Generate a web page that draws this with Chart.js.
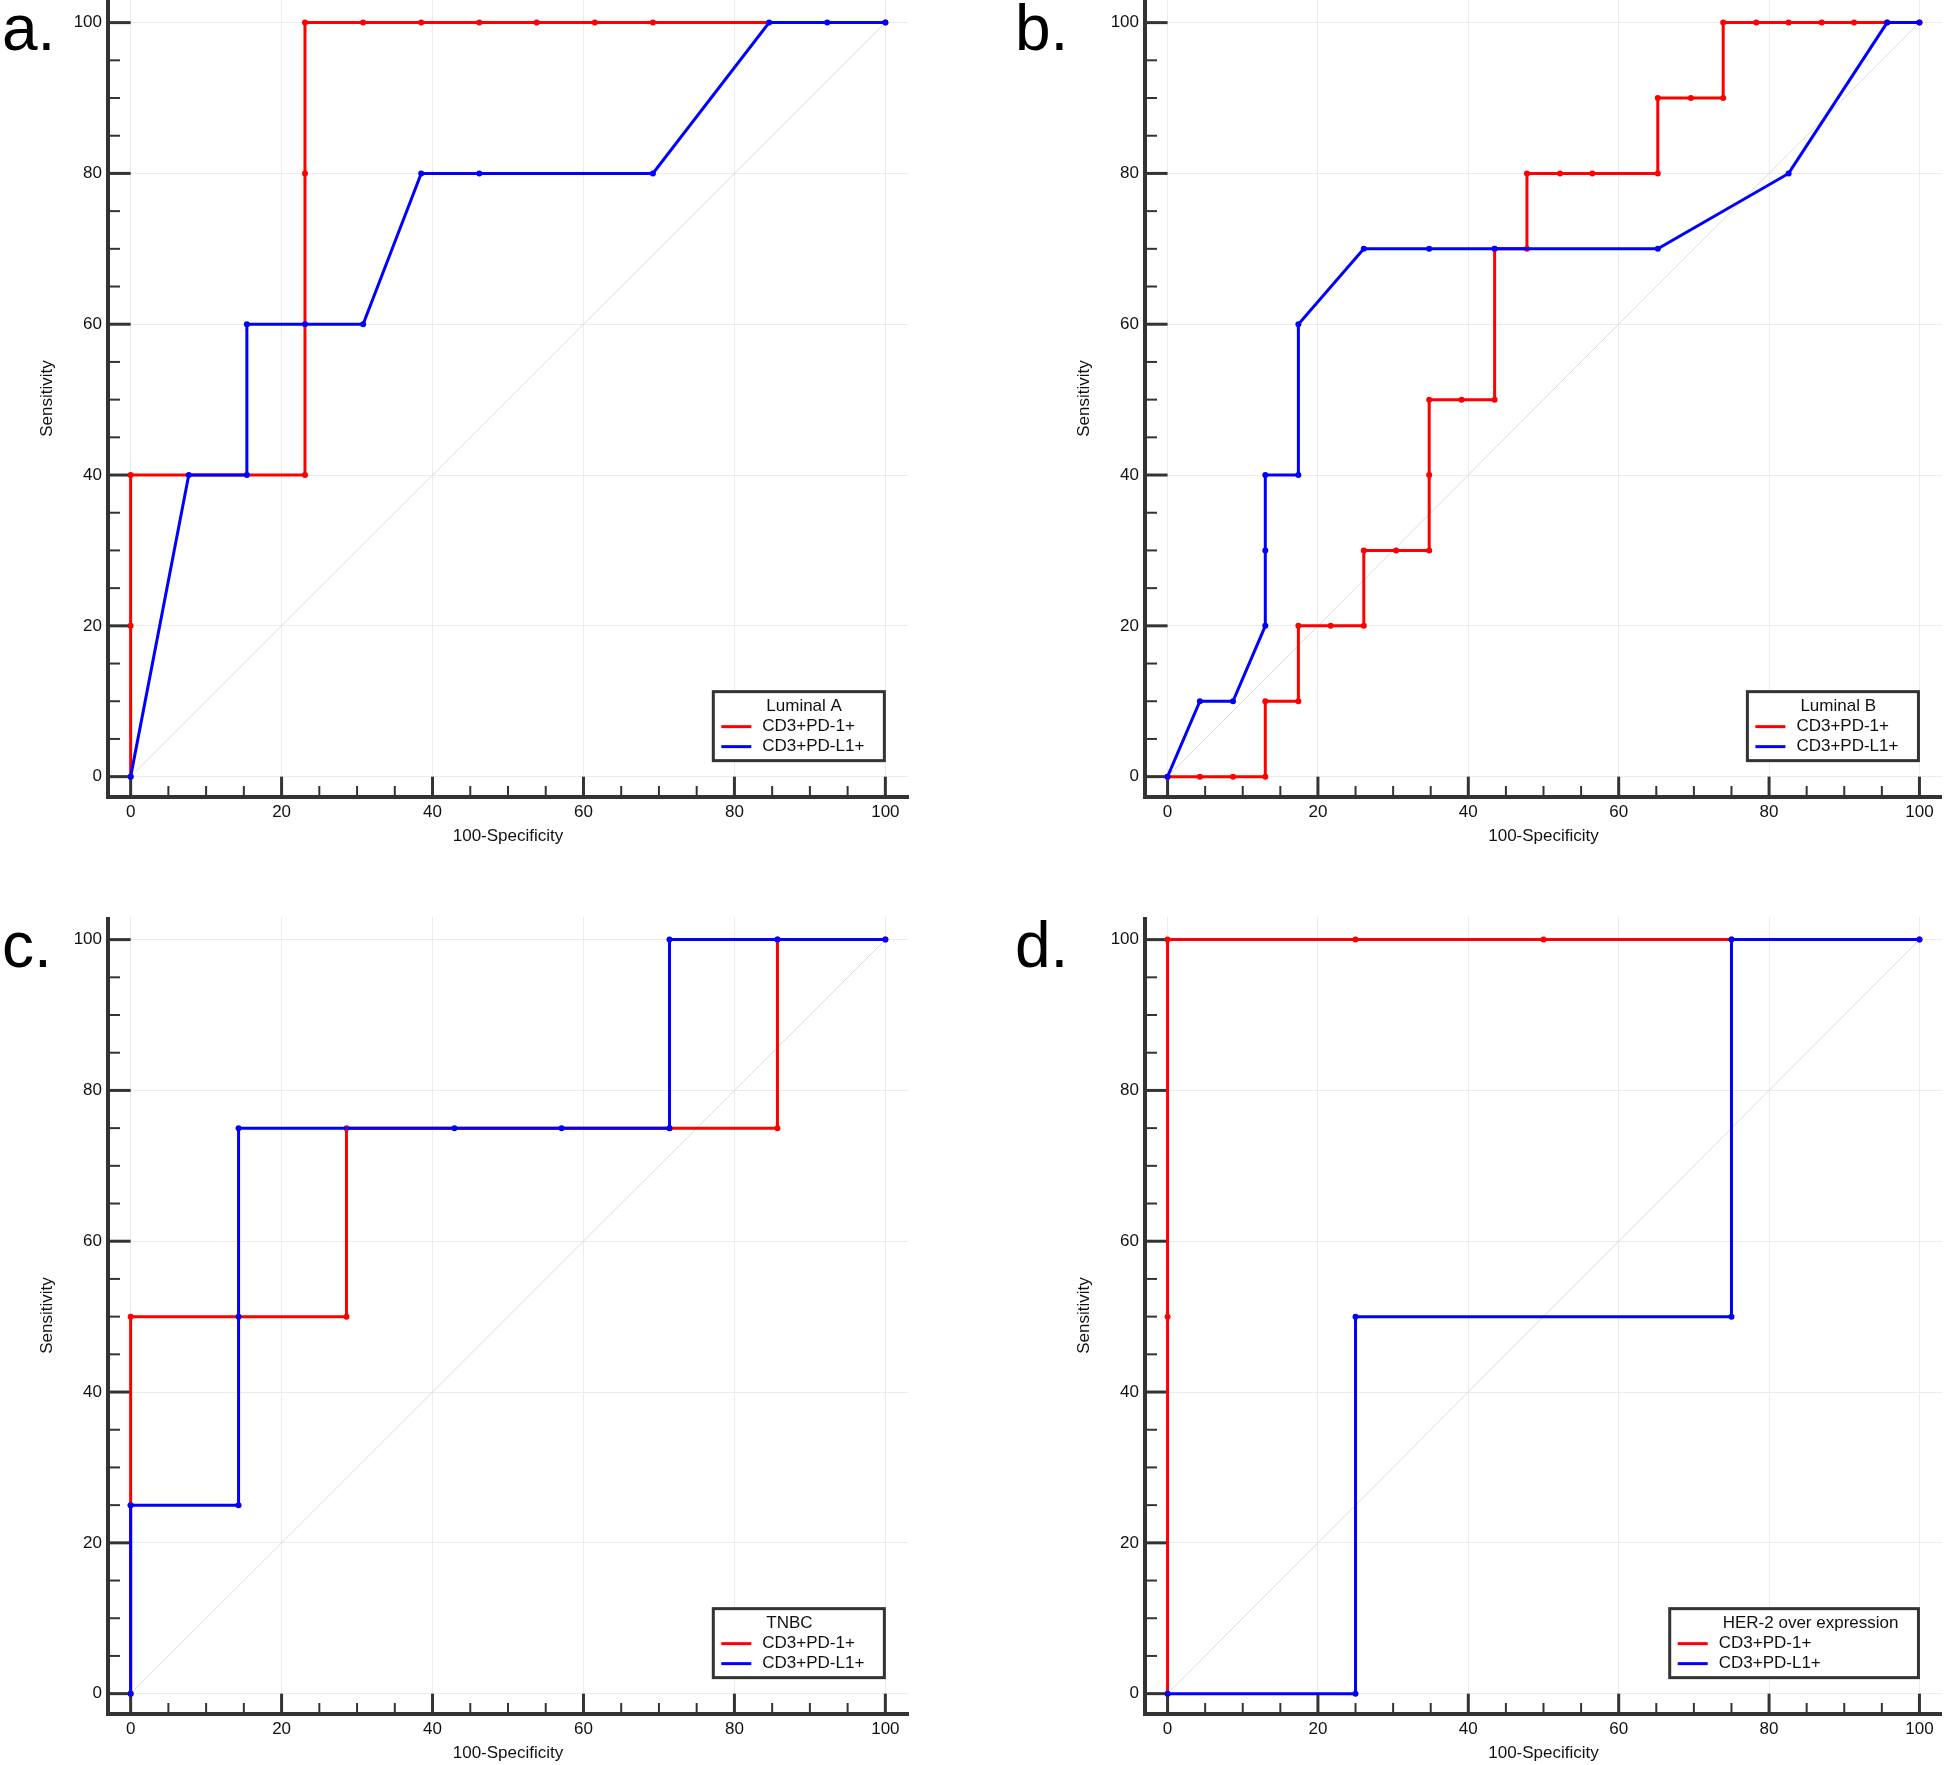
<!DOCTYPE html>
<html>
<head>
<meta charset="utf-8">
<script src="https://cdn.jsdelivr.net/npm/chart.js@4.4.0/dist/chart.umd.min.js"></script>
<style>
html,body{margin:0;padding:0;background:#fff;}
body{width:1944px;height:1765px;position:relative;overflow:hidden;}
canvas{position:absolute;}
</style>
</head>
<body>
<canvas id="pa" width="972" height="848" style="left:0;top:0"></canvas>
<canvas id="pb" width="942" height="848" style="left:1000px;top:0"></canvas>
<canvas id="pc" width="972" height="848" style="left:0;top:917px"></canvas>
<canvas id="pd" width="942" height="848" style="left:1000px;top:917px"></canvas>
<script>

// axis ticks
const majorTicks = [0,20,40,60,80,100]
const minorTicks = [5,10,15,25,30,35,45,50,55,65,70,75,85,90,95]

// reference line
const diagX = [0,100]
const diagY = [0,100]

// a. Luminal A
const aRedX  = [0,0,0,23.1,23.1,23.1,30.8,38.5,46.2,53.8,61.5,69.2,100]
const aRedY  = [0,20,40,40,80,100,100,100,100,100,100,100,100]
const aBlueX = [0,7.7,15.4,15.4,23.1,30.8,38.5,46.2,69.2,84.6,92.3,100]
const aBlueY = [0,40,40,60,60,60,80,80,80,100,100,100]

// b. Luminal B
const bRedX  = [0,4.3,8.7,13,13,17.4,17.4,21.7,26.1,26.1,30.4,34.8,34.8,34.8,39.1,43.5,43.5,47.8,47.8,52.2,56.5,65.2,65.2,69.6,73.9,73.9,78.3,82.6,87,91.3,95.7,100]
const bRedY  = [0,0,0,0,10,10,20,20,20,30,30,30,40,50,50,50,70,70,80,80,80,80,90,90,90,100,100,100,100,100,100,100]
const bBlueX = [0,4.3,8.7,13,13,13,17.4,17.4,26.1,34.8,43.5,65.2,82.6,95.7,100]
const bBlueY = [0,10,10,20,30,40,40,60,70,70,70,70,80,100,100]

// c. TNBC
const cRedX  = [0,0,0,28.6,28.6,71.4,85.7,85.7,100]
const cRedY  = [0,25,50,50,75,75,75,100,100]
const cBlueX = [0,0,14.3,14.3,14.3,42.9,57.1,71.4,71.4,85.7,100]
const cBlueY = [0,25,25,50,75,75,75,75,100,100,100]

// d. HER-2 over expression
const dRedX  = [0,0,0,25,50,75,100]
const dRedY  = [0,50,100,100,100,100,100]
const dBlueX = [0,25,25,75,75,100]
const dBlueY = [0,0,50,50,100,100]

const FONT = '"Liberation Sans", Arial, sans-serif'
Chart.defaults.font.family = FONT
Chart.defaults.color = '#111'

function pts(xs, ys){
  return xs.map((x,i) => ({x:x, y:ys[i]}))
}

const decor = {
  id: 'decor',
  beforeDatasetsDraw(chart, args, opts){
    const ctx = chart.ctx
    const xs = chart.scales.x, ys = chart.scales.y
    const ax = chart.chartArea.left, ay = chart.chartArea.bottom
    const xLen = ay - ys.getPixelForValue(0)
    const yLen = xs.getPixelForValue(0) - ax
    ctx.save()
    ctx.strokeStyle = '#333'
    const all = majorTicks.concat(minorTicks)
    for (const v of all){
      const major = majorTicks.includes(v)
      ctx.lineWidth = major ? 3 : 2
      const px = xs.getPixelForValue(v)
      ctx.beginPath(); ctx.moveTo(px, ay); ctx.lineTo(px, ay - (major ? xLen : 11)); ctx.stroke()
      const py = ys.getPixelForValue(v)
      ctx.beginPath(); ctx.moveTo(ax, py); ctx.lineTo(ax + (major ? yLen : 12), py); ctx.stroke()
    }
    ctx.restore()
  },
  afterDraw(chart, args, opts){
    const ctx = chart.ctx
    const xs = chart.scales.x, ys = chart.scales.y
    ctx.save()
    // panel letter
    ctx.fillStyle = '#000'
    ctx.font = '64px ' + FONT
    ctx.textBaseline = 'alphabetic'
    ctx.fillText(opts.letter, opts.letterX, 50)

    // legend box
    const sets = chart.data.datasets.filter(d => d.label)
    ctx.font = '17px ' + FONT
    const rowW = Math.max(...sets.map(d => ctx.measureText(d.label).width))
    const titleW = ctx.measureText(opts.title).width + 4
    const w = 49 + Math.max(rowW, titleW) + 20
    const h = 69
    const right = xs.getPixelForValue(100) - 1
    const bottom = ys.getPixelForValue(0) - 16
    const left = right - w, top = bottom - h
    ctx.fillStyle = '#fff'
    ctx.fillRect(left, top, w, h)
    ctx.lineWidth = 3
    ctx.strokeStyle = '#333'
    ctx.strokeRect(left, top, w, h)
    ctx.textBaseline = 'middle'
    ctx.fillStyle = '#111'
    ctx.fillText(opts.title, left + 53, top + 15)
    sets.forEach((d, i) => {
      const y = top + 35 + 20 * i
      ctx.strokeStyle = d.borderColor
      ctx.lineWidth = 3
      ctx.beginPath(); ctx.moveTo(left + 8, y); ctx.lineTo(left + 38, y); ctx.stroke()
      ctx.fillStyle = '#111'
      ctx.fillText(d.label, left + 49, y)
    })
    ctx.restore()
  }
}

function axis(title, lo, fitFn, titlePad, tickPad){
  return {
    type: 'linear',
    min: lo,
    max: 103,
    afterBuildTicks: s => { s.ticks = majorTicks.map(v => ({value: v})) },
    grid: {color: '#ececec', lineWidth: 1, drawTicks: false},
    border: {color: '#333', width: 4},
    ticks: {padding: tickPad, autoSkip: false, maxRotation: 0, color: '#111', font: {size: 17}},
    title: {display: true, text: title, color: '#111', font: {size: 17}, padding: titlePad},
    afterFit: fitFn
  }
}

function drawPanel(id, letter, letterX, axisX, padRight, title, redX, redY, blueX, blueY){
  new Chart(document.getElementById(id), {
    type: 'line',
    data: {
      datasets: [
        {label: 'CD3+PD-1+', data: pts(redX, redY), borderColor: '#ff0000', backgroundColor: '#ff0000',
         borderWidth: 3, pointRadius: 3, pointBorderWidth: 0, pointBackgroundColor: '#ff0000', order: 2},
        {label: 'CD3+PD-L1+', data: pts(blueX, blueY), borderColor: '#0000ff', backgroundColor: '#0000ff',
         borderWidth: 3, pointRadius: 3, pointBorderWidth: 0, pointBackgroundColor: '#0000ff', order: 1},
        {label: '', data: pts(diagX, diagY), borderColor: '#dcdcdc', borderWidth: 1, pointRadius: 0, order: 3}
      ]
    },
    options: {
      responsive: false,
      animation: false,
      layout: {autoPadding: false, padding: {left: 0, right: padRight, top: 0, bottom: 0}},
      plugins: {
        legend: {display: false},
        tooltip: {enabled: false},
        decor: {letter: letter, letterX: letterX, title: title}
      },
      scales: {
        x: axis('100-Specificity', -3, s => { s.height = 51; s.paddingLeft = 0; s.paddingRight = 0 }, {top: 0, bottom: 1}, 5),
        y: axis('Sensitivity', -2.7, s => { s.width = axisX; s.paddingTop = 0; s.paddingBottom = 0 }, {top: axisX - 71, bottom: 0}, 6)
      }
    },
    plugins: [decor]
  })
}

drawPanel('pa', 'a.', 2, 108, 64, 'Luminal A', aRedX, aRedY, aBlueX, aBlueY)
drawPanel('pb', 'b.', 15, 145, 0, 'Luminal B', bRedX, bRedY, bBlueX, bBlueY)
drawPanel('pc', 'c.', 2, 108, 64, 'TNBC', cRedX, cRedY, cBlueX, cBlueY)
drawPanel('pd', 'd.', 15, 145, 0, 'HER-2 over expression', dRedX, dRedY, dBlueX, dBlueY)

</script>
</body>
</html>
